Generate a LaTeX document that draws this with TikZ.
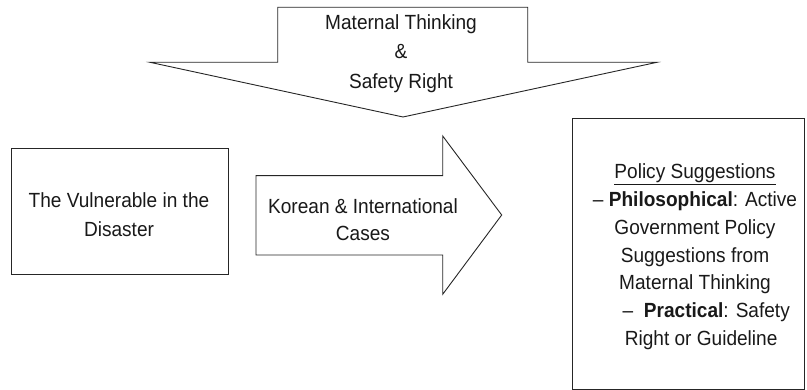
\documentclass[tikz,border=0pt]{standalone}
\usepackage{fontspec}
\setmainfont{Liberation Sans}[FakeStretch=0.93]
\begin{document}
\begin{tikzpicture}[x=1pt,y=-1pt,
  shapeline/.style={draw=black!85,line width=0.9pt,line join=miter},
  lbl/.style={font=\fontsize{20.5}{28.5}\selectfont,align=center,inner sep=0pt,text=black!90}]
\useasboundingbox (0,0) rectangle (807,390);
% top down arrow
\draw[shapeline,fill=white] (277.7,7.3) -- (527.7,7.3) -- (527.7,62.3) -- (657,62.3)
  -- (403,117) -- (150,62.3) -- (277.7,62.3) -- cycle;
\node[lbl,font=\fontsize{20.5}{29.5}\selectfont] (top) at (401,53.5) {Maternal Thinking\\\&\\Safety Right};
% left box
\node[shapeline,rectangle,minimum width=217.7pt,minimum height=126pt,inner sep=0pt] (vul) at (119.85,211.3) {};
\node[lbl,font=\fontsize{20.5}{28.7}\selectfont] (vultxt) at (119,214.7) {The Vulnerable in the\\Disaster};
% right arrow
\draw[shapeline,fill=white] (256,175.7) -- (442.7,175.7) -- (442.7,136) -- (501.7,215)
  -- (442.7,294.3) -- (442.7,255) -- (256,255) -- cycle;
\node[lbl,font=\fontsize{20.5}{26.8}\selectfont] (cases) at (363,219.7) {Korean \& International\\Cases};
% right box
\node[shapeline,rectangle,minimum width=232pt,minimum height=271pt,inner sep=0pt] (pol) at (688.7,253.5) {};
\node[lbl,font=\fontsize{20.5}{27.8}\selectfont] (poltxt) at (695,256.7)
  {\underline{Policy Suggestions}\\
   – \textbf{Philosophical}: Active\\
   Government Policy\\
   Suggestions from\\
   Maternal Thinking\\
   \hspace*{1.1em}–\ \ \textbf{Practical}: Safety\\
   \hspace*{0.6em}Right or Guideline};
\end{tikzpicture}
\end{document}
